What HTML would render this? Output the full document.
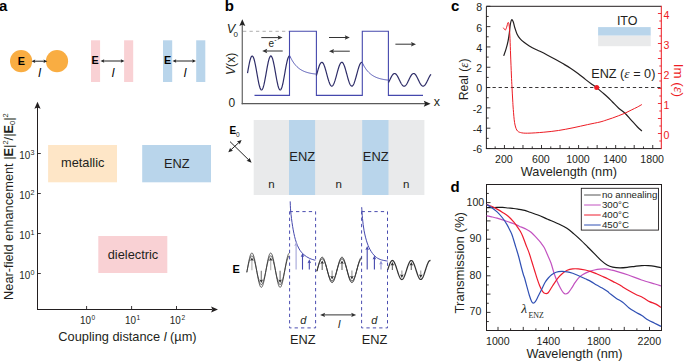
<!DOCTYPE html>
<html><head><meta charset="utf-8"><style>
html,body{margin:0;padding:0;background:#fff;}
svg{display:block;}
text{font-family:"Liberation Sans",sans-serif;}
.serif{font-family:"Liberation Serif",serif;}
</style></head><body>
<svg width="685" height="361" viewBox="0 0 685 361">
<rect width="685" height="361" fill="#fff"/>
<text x="-1" y="10.5" font-size="15" font-weight="bold" fill="#000">a</text>
<circle cx="21.1" cy="61.2" r="11.1" fill="#f9ad42"/>
<circle cx="57" cy="61.2" r="11.1" fill="#f9ad42"/>
<text x="21.4" y="65.2" font-size="10.8" text-anchor="middle" font-weight="bold" fill="#000">E</text>
<line x1="33.78" y1="61.2" x2="45.02" y2="61.2" stroke="#222" stroke-width="1"/><path d="M47.3,61.2 L43.5,63 L44.18,61.2 L43.5,59.4 Z" fill="#222"/><path d="M31.5,61.2 L35.3,59.4 L34.62,61.2 L35.3,63 Z" fill="#222"/>
<text x="38.2" y="77" font-size="12" font-style="italic" fill="#000">l</text>
<rect x="91" y="40.3" width="9.1" height="41.7" fill="#f9d1d4"/>
<rect x="124.1" y="40.3" width="9.1" height="41.7" fill="#f9d1d4"/>
<text x="95.2" y="64.3" font-size="10.8" text-anchor="middle" font-weight="bold" fill="#000">E</text>
<line x1="102.78" y1="61" x2="122.22" y2="61" stroke="#222" stroke-width="1"/><path d="M124.5,61 L120.7,62.8 L121.38,61 L120.7,59.2 Z" fill="#222"/><path d="M100.5,61 L104.3,59.2 L103.62,61 L104.3,62.8 Z" fill="#222"/>
<text x="111.7" y="77" font-size="12" font-style="italic" fill="#000">l</text>
<rect x="163" y="40.3" width="9.2" height="41.7" fill="#b9d5eb"/>
<rect x="196.2" y="40.3" width="9.1" height="41.7" fill="#b9d5eb"/>
<text x="167.6" y="64.3" font-size="10.8" text-anchor="middle" font-weight="bold" fill="#000">E</text>
<line x1="174.78" y1="61" x2="193.72" y2="61" stroke="#222" stroke-width="1"/><path d="M196,61 L192.2,62.8 L192.88,61 L192.2,59.2 Z" fill="#222"/><path d="M172.5,61 L176.3,59.2 L175.62,61 L176.3,62.8 Z" fill="#222"/>
<text x="183.7" y="77" font-size="12" font-style="italic" fill="#000">l</text>
<line x1="37.5" y1="310" x2="37.5" y2="106" stroke="#231f20" stroke-width="1"/>
<path d="M37.5,101.8 L40.6,108.7 L37.5,107.46 L34.4,108.7 Z" fill="#231f20"/>
<line x1="37" y1="309.5" x2="212" y2="309.5" stroke="#231f20" stroke-width="1"/>
<path d="M218,309.5 L211.1,312.6 L212.34,309.5 L211.1,306.4 Z" fill="#231f20"/>
<line x1="37.5" y1="153.5" x2="40.8" y2="153.5" stroke="#231f20" stroke-width="0.9"/>
<text x="30.2" y="158.6" font-size="10.8" text-anchor="end" textLength="11" lengthAdjust="spacingAndGlyphs" fill="#231f20">10</text>
<text x="30.6" y="155.3" font-size="7.2" fill="#231f20">3</text>
<line x1="37.5" y1="193.5" x2="40.8" y2="193.5" stroke="#231f20" stroke-width="0.9"/>
<text x="30.2" y="198.6" font-size="10.8" text-anchor="end" textLength="11" lengthAdjust="spacingAndGlyphs" fill="#231f20">10</text>
<text x="30.6" y="195.3" font-size="7.2" fill="#231f20">2</text>
<line x1="37.5" y1="233.5" x2="40.8" y2="233.5" stroke="#231f20" stroke-width="0.9"/>
<text x="30.2" y="238.6" font-size="10.8" text-anchor="end" textLength="11" lengthAdjust="spacingAndGlyphs" fill="#231f20">10</text>
<text x="30.6" y="235.3" font-size="7.2" fill="#231f20">1</text>
<line x1="37.5" y1="273.5" x2="40.8" y2="273.5" stroke="#231f20" stroke-width="0.9"/>
<text x="30.2" y="278.6" font-size="10.8" text-anchor="end" textLength="11" lengthAdjust="spacingAndGlyphs" fill="#231f20">10</text>
<text x="30.6" y="275.3" font-size="7.2" fill="#231f20">0</text>
<line x1="86.6" y1="309.5" x2="86.6" y2="306" stroke="#231f20" stroke-width="0.9"/>
<text x="90.9" y="323.7" font-size="10.8" text-anchor="end" textLength="11" lengthAdjust="spacingAndGlyphs" fill="#231f20">10</text>
<text x="91.5" y="320.2" font-size="6.6" fill="#231f20">0</text>
<line x1="131.6" y1="309.5" x2="131.6" y2="306" stroke="#231f20" stroke-width="0.9"/>
<text x="135.9" y="323.7" font-size="10.8" text-anchor="end" textLength="11" lengthAdjust="spacingAndGlyphs" fill="#231f20">10</text>
<text x="136.5" y="320.2" font-size="6.6" fill="#231f20">1</text>
<line x1="176.5" y1="309.5" x2="176.5" y2="306" stroke="#231f20" stroke-width="0.9"/>
<text x="180.8" y="323.7" font-size="10.8" text-anchor="end" textLength="11" lengthAdjust="spacingAndGlyphs" fill="#231f20">10</text>
<text x="181.4" y="320.2" font-size="6.6" fill="#231f20">2</text>
<rect x="48.1" y="145" width="68.9" height="37.3" fill="#fee6c7"/>
<rect x="142.2" y="145" width="68.8" height="37.3" fill="#b9d5eb"/>
<rect x="98.3" y="236" width="69" height="37" fill="#f9d1d4"/>
<text x="82.7" y="167.3" font-size="12.8" text-anchor="middle" fill="#231f20">metallic</text>
<text x="176.7" y="168.4" font-size="12.8" text-anchor="middle" fill="#231f20">ENZ</text>
<text x="133" y="258.8" font-size="12.8" text-anchor="middle" fill="#231f20">dielectric</text>
<text x="127.5" y="340.8" font-size="12.8" text-anchor="middle" fill="#231f20">Coupling distance <tspan font-style="italic">l</tspan> (µm)</text>
<text transform="translate(12.6,206.6) rotate(-90)" font-size="12.8" text-anchor="middle" fill="#231f20">Near-field enhancement |<tspan font-weight="bold">E</tspan>|<tspan font-size="7.5" dy="-4.5">2</tspan><tspan dy="4.5">/|</tspan><tspan font-weight="bold">E</tspan><tspan font-size="7.5" dy="2.5">0</tspan><tspan dy="-2.5">|</tspan><tspan font-size="7.5" dy="-4.5">2</tspan></text>
<text x="224.8" y="10.6" font-size="15" font-weight="bold" fill="#000">b</text>
<line x1="242.3" y1="104.3" x2="242.3" y2="24" stroke="#707070" stroke-width="1.3"/>
<path d="M242.3,19.2 L245.3,26 L242.3,24.78 L239.3,26 Z" fill="#222"/>
<line x1="241.65" y1="103.7" x2="425" y2="103.7" stroke="#5a5a5a" stroke-width="1.3"/>
<path d="M430.6,103.7 L423.8,106.7 L425.02,103.7 L423.8,100.7 Z" fill="#222"/>
<line x1="243" y1="31.3" x2="289" y2="31.3" stroke="#9a9a9a" stroke-width="0.8" stroke-dasharray="3.3,3.2"/>
<text x="226.8" y="32.5" font-size="12.7" font-style="italic" fill="#231f20">V</text>
<text x="233.6" y="36.8" font-size="8" fill="#231f20">0</text>
<text transform="translate(235.0,63.9) rotate(-90)" font-size="12.2" text-anchor="middle" fill="#231f20"><tspan font-style="italic">V</tspan>(x)</text>
<text x="228.4" y="106.5" font-size="12" fill="#231f20">0</text>
<text x="433.8" y="106.2" font-size="12.5" fill="#231f20">x</text>
<path d="M254.5,95.4 H289.5 V31.2 H316.4 V95.4 H362.3 V31.2 H388.4 V95.4 H423" fill="none" stroke="#4548ad" stroke-width="1.1"/>
<path d="M247.5,73.21 L247.83,71.33 L248.16,69.47 L248.49,67.66 L248.82,65.9 L249.14,64.24 L249.47,62.68 L249.8,61.25 L250.13,59.96 L250.46,58.84 L250.79,57.88 L251.12,57.12 L251.45,56.54 L251.78,56.17 L252.1,56.01 L252.43,56.05 L252.76,56.3 L253.09,56.76 L253.42,57.42 L253.75,58.26 L254.08,59.29 L254.41,60.49 L254.74,61.84 L255.06,63.32 L255.39,64.93 L255.72,66.63 L256.05,68.41 L256.38,70.25 L256.71,72.12 L257.04,74.01 L257.37,75.88 L257.7,77.71 L258.02,79.49 L258.35,81.19 L258.68,82.78 L259.01,84.26 L259.34,85.6 L259.67,86.79 L260,87.8 L260.33,88.63 L260.66,89.28 L260.99,89.72 L261.31,89.96 L261.64,89.99 L261.97,89.81 L262.3,89.42 L262.63,88.84 L262.96,88.06 L263.29,87.09 L263.62,85.95 L263.95,84.65 L264.27,83.21 L264.6,81.65 L264.93,79.98 L265.26,78.22 L265.59,76.4 L265.92,74.54 L266.25,72.66 L266.58,70.78 L266.91,68.93 L267.23,67.13 L267.56,65.4 L267.89,63.76 L268.22,62.24 L268.55,60.85 L268.88,59.61 L269.21,58.54 L269.54,57.64 L269.87,56.93 L270.19,56.41 L270.52,56.1 L270.85,56 L271.18,56.11 L271.51,56.42 L271.84,56.94 L272.17,57.65 L272.5,58.55 L272.83,59.63 L273.15,60.87 L273.48,62.26 L273.81,63.79 L274.14,65.42 L274.47,67.15 L274.8,68.95 L275.13,70.8 L275.46,72.68 L275.79,74.56 L276.11,76.43 L276.44,78.25 L276.77,80 L277.1,81.67 L277.43,83.24 L277.76,84.67 L278.09,85.97 L278.42,87.11 L278.75,88.07 L279.08,88.85 L279.4,89.43 L279.73,89.81 L280.06,89.99 L280.39,89.96 L280.72,89.71 L281.05,89.27 L281.38,88.62 L281.71,87.79 L282.04,86.77 L282.36,85.58 L282.69,84.24 L283.02,82.76 L283.35,81.16 L283.68,79.46 L284.01,77.69 L284.34,75.85 L284.67,73.98 L285,72.1 L285.32,70.22 L285.65,68.39 L285.98,66.61 L286.31,64.9 L286.64,63.3 L286.97,61.82 L287.3,60.47 L287.63,59.28 L287.96,58.25 L288.28,57.41 L288.61,56.75 L288.94,56.3 L289.27,56.05 L289.6,56.01" fill="none" stroke="#2e2d68" stroke-width="1.2"/>
<path d="M316.4,75.69 L316.73,74.46 L317.06,73.23 L317.39,72 L317.72,70.8 L318.05,69.64 L318.38,68.52 L318.71,67.47 L319.04,66.49 L319.37,65.59 L319.7,64.79 L320.03,64.08 L320.37,63.49 L320.7,63.01 L321.03,62.65 L321.36,62.42 L321.69,62.31 L322.02,62.33 L322.35,62.48 L322.68,62.75 L323.01,63.15 L323.34,63.66 L323.67,64.29 L324,65.03 L324.33,65.87 L324.66,66.79 L324.99,67.8 L325.32,68.87 L325.65,70 L325.98,71.18 L326.31,72.39 L326.64,73.62 L326.97,74.85 L327.3,76.08 L327.63,77.29 L327.97,78.46 L328.3,79.59 L328.63,80.66 L328.96,81.66 L329.29,82.58 L329.62,83.41 L329.95,84.14 L330.28,84.77 L330.61,85.28 L330.94,85.67 L331.27,85.94 L331.6,86.08 L331.93,86.09 L332.26,85.98 L332.59,85.73 L332.92,85.37 L333.25,84.88 L333.58,84.28 L333.91,83.57 L334.24,82.76 L334.57,81.86 L334.9,80.88 L335.23,79.82 L335.57,78.7 L335.9,77.54 L336.23,76.33 L336.56,75.11 L336.89,73.87 L337.22,72.64 L337.55,71.43 L337.88,70.25 L338.21,69.1 L338.54,68.02 L338.87,67 L339.2,66.05 L339.53,65.2 L339.86,64.44 L340.19,63.79 L340.52,63.25 L340.85,62.82 L341.18,62.52 L341.51,62.35 L341.84,62.3 L342.17,62.38 L342.5,62.59 L342.83,62.92 L343.17,63.38 L343.5,63.95 L343.83,64.63 L344.16,65.41 L344.49,66.29 L344.82,67.26 L345.15,68.3 L345.48,69.4 L345.81,70.55 L346.14,71.75 L346.47,72.97 L346.8,74.2 L347.13,75.43 L347.46,76.65 L347.79,77.85 L348.12,79 L348.45,80.1 L348.78,81.14 L349.11,82.11 L349.44,82.99 L349.77,83.77 L350.1,84.45 L350.43,85.02 L350.77,85.48 L351.1,85.81 L351.43,86.02 L351.76,86.1 L352.09,86.05 L352.42,85.88 L352.75,85.58 L353.08,85.15 L353.41,84.61 L353.74,83.96 L354.07,83.2 L354.4,82.35 L354.73,81.4 L355.06,80.38 L355.39,79.3 L355.72,78.15 L356.05,76.97 L356.38,75.76 L356.71,74.53 L357.04,73.29 L357.37,72.07 L357.7,70.86 L358.03,69.7 L358.37,68.58 L358.7,67.52 L359.03,66.54 L359.36,65.64 L359.69,64.83 L360.02,64.12 L360.35,63.52 L360.68,63.03 L361.01,62.67 L361.34,62.42 L361.67,62.31 L362,62.32" fill="none" stroke="#2e2d68" stroke-width="1.2"/>
<path d="M388.5,82.59 L388.83,81.95 L389.16,81.29 L389.49,80.61 L389.82,79.92 L390.15,79.23 L390.48,78.54 L390.81,77.88 L391.14,77.23 L391.47,76.62 L391.79,76.04 L392.12,75.51 L392.45,75.03 L392.78,74.61 L393.11,74.25 L393.44,73.96 L393.77,73.74 L394.1,73.59 L394.43,73.51 L394.76,73.51 L395.09,73.58 L395.42,73.73 L395.75,73.95 L396.08,74.24 L396.41,74.6 L396.74,75.02 L397.07,75.5 L397.4,76.03 L397.72,76.6 L398.05,77.21 L398.38,77.86 L398.71,78.52 L399.04,79.21 L399.37,79.9 L399.7,80.59 L400.03,81.27 L400.36,81.93 L400.69,82.57 L401.02,83.18 L401.35,83.75 L401.68,84.27 L402.01,84.74 L402.34,85.15 L402.67,85.5 L403,85.78 L403.33,85.99 L403.66,86.13 L403.98,86.2 L404.31,86.18 L404.64,86.1 L404.97,85.94 L405.3,85.7 L405.63,85.4 L405.96,85.03 L406.29,84.61 L406.62,84.12 L406.95,83.58 L407.28,83 L407.61,82.38 L407.94,81.74 L408.27,81.07 L408.6,80.38 L408.93,79.69 L409.26,79 L409.59,78.32 L409.91,77.66 L410.24,77.02 L410.57,76.42 L410.9,75.86 L411.23,75.35 L411.56,74.89 L411.89,74.49 L412.22,74.15 L412.55,73.88 L412.88,73.68 L413.21,73.55 L413.54,73.5 L413.87,73.52 L414.2,73.62 L414.53,73.8 L414.86,74.04 L415.19,74.35 L415.52,74.73 L415.84,75.17 L416.17,75.67 L416.5,76.21 L416.83,76.8 L417.16,77.42 L417.49,78.07 L417.82,78.75 L418.15,79.43 L418.48,80.12 L418.81,80.81 L419.14,81.49 L419.47,82.15 L419.8,82.78 L420.13,83.37 L420.46,83.93 L420.79,84.43 L421.12,84.88 L421.45,85.27 L421.78,85.6 L422.1,85.86 L422.43,86.05 L422.76,86.16 L423.09,86.2 L423.42,86.16 L423.75,86.05 L424.08,85.87 L424.41,85.61 L424.74,85.29 L425.07,84.9 L425.4,84.45 L425.73,83.95 L426.06,83.4 L426.39,82.8 L426.72,82.17 L427.05,81.52 L427.38,80.84 L427.71,80.15 L428.03,79.46 L428.36,78.78 L428.69,78.1 L429.02,77.45 L429.35,76.82 L429.68,76.23 L430.01,75.69 L430.34,75.19 L430.67,74.75 L431,74.37" fill="none" stroke="#2e2d68" stroke-width="1.2"/>
<path d="M289.65,55.5 L290.32,56.96 L290.99,58.31 L291.66,59.56 L292.32,60.71 L292.99,61.78 L293.66,62.77 L294.33,63.69 L295,64.53 L295.67,65.32 L296.34,66.04 L297.01,66.71 L297.67,67.33 L298.34,67.9 L299.01,68.44 L299.68,68.93 L300.35,69.38 L301.02,69.8 L301.69,70.19 L302.36,70.55 L303.02,70.88 L303.69,71.19 L304.36,71.48 L305.03,71.74 L305.7,71.98 L306.37,72.21 L307.04,72.42 L307.71,72.61 L308.38,72.79 L309.04,72.96 L309.71,73.11 L310.38,73.25 L311.05,73.38 L311.72,73.5 L312.39,73.61 L313.06,73.72 L313.72,73.81 L314.39,73.9 L315.06,73.98 L315.73,74.06 L316.4,74.13" fill="none" stroke="#4548ad" stroke-width="0.9"/>
<path d="M362.2,62.5 L362.86,63.86 L363.51,65.12 L364.17,66.29 L364.83,67.37 L365.49,68.38 L366.14,69.31 L366.8,70.17 L367.46,70.96 L368.12,71.7 L368.77,72.39 L369.43,73.02 L370.09,73.61 L370.75,74.15 L371.4,74.66 L372.06,75.12 L372.72,75.56 L373.38,75.96 L374.03,76.33 L374.69,76.67 L375.35,76.99 L376.01,77.29 L376.67,77.56 L377.32,77.81 L377.98,78.05 L378.64,78.26 L379.3,78.47 L379.95,78.65 L380.61,78.82 L381.27,78.98 L381.93,79.13 L382.58,79.27 L383.24,79.4 L383.9,79.52 L384.56,79.63 L385.21,79.73 L385.87,79.82 L386.53,79.91 L387.19,79.99 L387.84,80.06 L388.5,80.13" fill="none" stroke="#4548ad" stroke-width="0.9"/>
<line x1="261.3" y1="37.6" x2="279.6" y2="37.6" stroke="#333" stroke-width="1"/><path d="M282.6,37.6 L277.6,39.8 L278.5,37.6 L277.6,35.4 Z" fill="#333"/>
<line x1="282.7" y1="51" x2="265.2" y2="51" stroke="#333" stroke-width="1"/><path d="M262.2,51 L267.2,48.8 L266.3,51 L267.2,53.2 Z" fill="#333"/>
<line x1="329" y1="37.5" x2="346.8" y2="37.5" stroke="#333" stroke-width="1"/><path d="M349.8,37.5 L344.8,39.7 L345.7,37.5 L344.8,35.3 Z" fill="#333"/>
<line x1="349.8" y1="51.2" x2="332" y2="51.2" stroke="#333" stroke-width="1"/><path d="M329,51.2 L334,49 L333.1,51.2 L334,53.4 Z" fill="#333"/>
<line x1="395.4" y1="44.2" x2="413" y2="44.2" stroke="#333" stroke-width="1"/><path d="M416,44.2 L411,46.4 L411.9,44.2 L411,42 Z" fill="#333"/>
<text x="268.4" y="47.2" font-size="10" fill="#231f20">e</text>
<text x="274.2" y="42.4" font-size="7" fill="#231f20">-</text>
<rect x="253.7" y="120" width="170.7" height="75" fill="#e9eaeb"/>
<rect x="289" y="120" width="26.1" height="75" fill="#b9d5eb"/>
<rect x="362.2" y="120" width="26.3" height="75" fill="#b9d5eb"/>
<text x="302.2" y="160.9" font-size="12.9" text-anchor="middle" fill="#231f20">ENZ</text>
<text x="375.75" y="160.9" font-size="12.9" text-anchor="middle" fill="#231f20">ENZ</text>
<text x="271.5" y="188" font-size="11.5" text-anchor="middle" fill="#231f20">n</text>
<text x="338.7" y="188" font-size="11.5" text-anchor="middle" fill="#231f20">n</text>
<text x="406.3" y="188" font-size="11.5" text-anchor="middle" fill="#231f20">n</text>
<text x="229.4" y="133.6" font-size="10" font-weight="bold" fill="#000">E</text>
<text x="235.9" y="137.4" font-size="6.5" fill="#231f20">0</text>
<line x1="230" y1="141.6" x2="249.45" y2="160.6" stroke="#222" stroke-width="1"/><path d="M251.6,162.7 L246.49,160.78 L248.67,159.84 L249.56,157.63 Z" fill="#222"/>
<line x1="230.28" y1="150.47" x2="239.62" y2="141.83" stroke="#222" stroke-width="1"/><path d="M241.6,140 L239.72,144.6 L238.89,142.51 L236.87,141.51 Z" fill="#222"/><path d="M228.3,152.3 L230.18,147.7 L231.01,149.79 L233.03,150.79 Z" fill="#222"/>
<path d="M289.6,211.6 H315.6 V327.9 H289.6 Z" fill="none" stroke="#4a4db0" stroke-width="1" stroke-dasharray="3.3,3.1"/>
<path d="M361.6,211.6 H387.5 V327.9 H361.6 Z" fill="none" stroke="#4a4db0" stroke-width="1" stroke-dasharray="3.3,3.1"/>
<path d="M290.2,201.4 C290.28,203.03 290.3,207.05 290.7,211.2 C291.1,215.35 291.82,221.57 292.6,226.3 C293.38,231.03 294.3,235.82 295.4,239.6 C296.5,243.38 297.78,246.48 299.2,249 C300.62,251.52 302.17,253.13 303.9,254.7 C305.63,256.27 307.7,257.47 309.6,258.4 C311.5,259.33 314.35,259.98 315.3,260.3" fill="none" stroke="#4548ad" stroke-width="1"/>
<path d="M361.7,207.2 C361.83,209.08 362.1,214.57 362.5,218.5 C362.9,222.43 363.32,226.72 364.1,230.8 C364.88,234.88 366,239.52 367.2,243 C368.4,246.48 369.77,249.3 371.3,251.7 C372.83,254.1 374.68,256.03 376.4,257.4 C378.12,258.77 379.72,259.28 381.6,259.9 C383.48,260.52 386.68,260.9 387.7,261.1" fill="none" stroke="#4548ad" stroke-width="1"/>
<line x1="296.1" y1="269.6" x2="296.1" y2="244.3" stroke="#a5a6d8" stroke-width="1.1"/><path d="M296.1,241.9 L297.9,245.9 L296.1,245.18 L294.3,245.9 Z" fill="#a5a6d8"/>
<line x1="302.5" y1="269.6" x2="302.5" y2="255.4" stroke="#4548ad" stroke-width="1.1"/><path d="M302.5,253 L304.3,257 L302.5,256.28 L300.7,257 Z" fill="#4548ad"/>
<line x1="309.3" y1="269.6" x2="309.3" y2="261.6" stroke="#4548ad" stroke-width="1.1"/><path d="M309.3,259.2 L311.1,263.2 L309.3,262.48 L307.5,263.2 Z" fill="#4548ad"/>
<line x1="367.2" y1="269.6" x2="367.2" y2="248.4" stroke="#4548ad" stroke-width="1.1"/><path d="M367.2,246 L369,250 L367.2,249.28 L365.4,250 Z" fill="#4548ad"/>
<line x1="374.4" y1="269.6" x2="374.4" y2="257.8" stroke="#4548ad" stroke-width="1.1"/><path d="M374.4,255.4 L376.2,259.4 L374.4,258.68 L372.6,259.4 Z" fill="#4548ad"/>
<line x1="381" y1="269.6" x2="381" y2="262.9" stroke="#8d8fd0" stroke-width="1.1"/><path d="M381,260.5 L382.8,264.5 L381,263.78 L379.2,264.5 Z" fill="#8d8fd0"/>
<path d="M246.8,272.49 L247.13,270.61 L247.46,268.71 L247.79,266.84 L248.12,265.01 L248.45,263.24 L248.78,261.55 L249.11,259.97 L249.44,258.51 L249.77,257.2 L250.09,256.04 L250.42,255.05 L250.75,254.25 L251.08,253.64 L251.41,253.23 L251.74,253.02 L252.07,253.03 L252.4,253.24 L252.73,253.66 L253.06,254.28 L253.39,255.09 L253.72,256.08 L254.05,257.25 L254.38,258.57 L254.71,260.03 L255.04,261.62 L255.37,263.31 L255.7,265.08 L256.02,266.91 L256.35,268.79 L256.68,270.68 L257.01,272.57 L257.34,274.43 L257.67,276.23 L258,277.97 L258.33,279.6 L258.66,281.13 L258.99,282.52 L259.32,283.77 L259.65,284.85 L259.98,285.75 L260.31,286.46 L260.64,286.98 L260.97,287.29 L261.3,287.4 L261.63,287.3 L261.96,286.99 L262.28,286.48 L262.61,285.77 L262.94,284.87 L263.27,283.79 L263.6,282.55 L263.93,281.16 L264.26,279.64 L264.59,278.01 L264.92,276.27 L265.25,274.47 L265.58,272.61 L265.91,270.73 L266.24,268.83 L266.57,266.96 L266.9,265.12 L267.23,263.35 L267.56,261.65 L267.89,260.07 L268.21,258.6 L268.54,257.27 L268.87,256.11 L269.2,255.11 L269.53,254.29 L269.86,253.67 L270.19,253.25 L270.52,253.03 L270.85,253.02 L271.18,253.22 L271.51,253.63 L271.84,254.23 L272.17,255.03 L272.5,256.01 L272.83,257.17 L273.16,258.48 L273.49,259.93 L273.82,261.51 L274.14,263.2 L274.47,264.96 L274.8,266.8 L275.13,268.67 L275.46,270.56 L275.79,272.45 L276.12,274.31 L276.45,276.12 L276.78,277.86 L277.11,279.5 L277.44,281.04 L277.77,282.44 L278.1,283.69 L278.43,284.78 L278.76,285.7 L279.09,286.42 L279.42,286.95 L279.75,287.28 L280.08,287.4 L280.4,287.31 L280.73,287.02 L281.06,286.52 L281.39,285.82 L281.72,284.93 L282.05,283.87 L282.38,282.64 L282.71,281.26 L283.04,279.74 L283.37,278.11 L283.7,276.39 L284.03,274.58 L284.36,272.73 L284.69,270.85 L285.02,268.95 L285.35,267.08 L285.68,265.24 L286.01,263.46 L286.33,261.76 L286.66,260.16 L286.99,258.69 L287.32,257.35 L287.65,256.18 L287.98,255.17 L288.31,254.34 L288.64,253.7 L288.97,253.27 L289.3,253.04" fill="none" stroke="#333333" stroke-width="0.8"/>
<path d="M246.8,272.12 L247.13,270.54 L247.46,268.96 L247.79,267.39 L248.12,265.85 L248.45,264.37 L248.78,262.96 L249.11,261.63 L249.44,260.41 L249.77,259.31 L250.09,258.34 L250.42,257.52 L250.75,256.84 L251.08,256.33 L251.41,255.99 L251.74,255.82 L252.07,255.82 L252.4,256 L252.73,256.35 L253.06,256.87 L253.39,257.55 L253.72,258.38 L254.05,259.35 L254.38,260.46 L254.71,261.69 L255.04,263.01 L255.37,264.43 L255.7,265.91 L256.02,267.45 L256.35,269.02 L256.68,270.6 L257.01,272.18 L257.34,273.74 L257.67,275.25 L258,276.7 L258.33,278.07 L258.66,279.35 L258.99,280.52 L259.32,281.56 L259.65,282.46 L259.98,283.22 L260.31,283.82 L260.64,284.25 L260.97,284.51 L261.3,284.6 L261.63,284.51 L261.96,284.26 L262.28,283.83 L262.61,283.23 L262.94,282.48 L263.27,281.58 L263.6,280.54 L263.93,279.38 L264.26,278.1 L264.59,276.73 L264.92,275.28 L265.25,273.77 L265.58,272.22 L265.91,270.64 L266.24,269.06 L266.57,267.49 L266.9,265.95 L267.23,264.46 L267.56,263.05 L267.89,261.72 L268.21,260.49 L268.54,259.38 L268.87,258.4 L269.2,257.56 L269.53,256.88 L269.86,256.36 L270.19,256.01 L270.52,255.83 L270.85,255.82 L271.18,255.98 L271.51,256.32 L271.84,256.83 L272.17,257.5 L272.5,258.32 L272.83,259.29 L273.16,260.39 L273.49,261.6 L273.82,262.93 L274.14,264.34 L274.47,265.82 L274.8,267.35 L275.13,268.92 L275.46,270.5 L275.79,272.08 L276.12,273.64 L276.45,275.16 L276.78,276.61 L277.11,277.99 L277.44,279.27 L277.77,280.45 L278.1,281.5 L278.43,282.41 L278.76,283.17 L279.09,283.78 L279.42,284.23 L279.75,284.5 L280.08,284.6 L280.4,284.53 L280.73,284.28 L281.06,283.86 L281.39,283.28 L281.72,282.53 L282.05,281.64 L282.38,280.61 L282.71,279.46 L283.04,278.19 L283.37,276.82 L283.7,275.38 L284.03,273.87 L284.36,272.32 L284.69,270.74 L285.02,269.16 L285.35,267.58 L285.68,266.04 L286.01,264.55 L286.33,263.13 L286.66,261.8 L286.99,260.56 L287.32,259.45 L287.65,258.46 L287.98,257.61 L288.31,256.92 L288.64,256.39 L288.97,256.02 L289.3,255.83" fill="none" stroke="#333333" stroke-width="0.8"/>
<line x1="251.9" y1="270.2" x2="251.9" y2="259.44" stroke="#b5b5b5" stroke-width="1.2"/><path d="M251.9,257.4 L253.7,260.8 L251.9,260.19 L250.1,260.8 Z" fill="#333"/>
<line x1="261.3" y1="270.7" x2="261.3" y2="280.96" stroke="#808080" stroke-width="1.2"/><path d="M261.3,283 L259.5,279.6 L261.3,280.21 L263.1,279.6 Z" fill="#333"/>
<line x1="270.7" y1="270.2" x2="270.7" y2="259.44" stroke="#b5b5b5" stroke-width="1.2"/><path d="M270.7,257.4 L272.5,260.8 L270.7,260.19 L268.9,260.8 Z" fill="#333"/>
<line x1="280.1" y1="270.7" x2="280.1" y2="280.96" stroke="#808080" stroke-width="1.2"/><path d="M280.1,283 L278.3,279.6 L280.1,280.21 L281.9,279.6 Z" fill="#333"/>
<path d="M316.9,271.31 L317.23,269.98 L317.56,268.66 L317.89,267.34 L318.22,266.06 L318.55,264.82 L318.88,263.63 L319.21,262.51 L319.54,261.47 L319.87,260.53 L320.2,259.68 L320.53,258.95 L320.86,258.34 L321.19,257.85 L321.51,257.5 L321.84,257.28 L322.17,257.2 L322.5,257.26 L322.83,257.46 L323.16,257.79 L323.49,258.25 L323.82,258.85 L324.15,259.56 L324.48,260.39 L324.81,261.32 L325.14,262.34 L325.47,263.45 L325.8,264.62 L326.13,265.86 L326.46,267.14 L326.79,268.45 L327.12,269.77 L327.45,271.1 L327.78,272.41 L328.11,273.7 L328.44,274.94 L328.77,276.13 L329.1,277.25 L329.43,278.3 L329.76,279.24 L330.09,280.09 L330.41,280.83 L330.74,281.44 L331.07,281.93 L331.4,282.29 L331.73,282.51 L332.06,282.6 L332.39,282.55 L332.72,282.35 L333.05,282.03 L333.38,281.56 L333.71,280.98 L334.04,280.27 L334.37,279.44 L334.7,278.52 L335.03,277.5 L335.36,276.39 L335.69,275.22 L336.02,273.98 L336.35,272.71 L336.68,271.4 L337.01,270.07 L337.34,268.74 L337.67,267.43 L338,266.14 L338.33,264.9 L338.66,263.71 L338.99,262.58 L339.31,261.54 L339.64,260.59 L339.97,259.74 L340.3,259 L340.63,258.38 L340.96,257.88 L341.29,257.52 L341.62,257.29 L341.95,257.2 L342.28,257.25 L342.61,257.44 L342.94,257.76 L343.27,258.22 L343.6,258.8 L343.93,259.51 L344.26,260.33 L344.59,261.25 L344.92,262.27 L345.25,263.37 L345.58,264.54 L345.91,265.77 L346.24,267.05 L346.57,268.36 L346.9,269.68 L347.23,271.01 L347.56,272.33 L347.89,273.61 L348.21,274.86 L348.54,276.06 L348.87,277.18 L349.2,278.23 L349.53,279.18 L349.86,280.04 L350.19,280.78 L350.52,281.41 L350.85,281.9 L351.18,282.27 L351.51,282.5 L351.84,282.6 L352.17,282.55 L352.5,282.37 L352.83,282.05 L353.16,281.6 L353.49,281.02 L353.82,280.32 L354.15,279.5 L354.48,278.58 L354.81,277.57 L355.14,276.47 L355.47,275.3 L355.8,274.07 L356.13,272.79 L356.46,271.49 L356.79,270.16 L357.11,268.83 L357.44,267.52 L357.77,266.23 L358.1,264.98 L358.43,263.78 L358.76,262.66 L359.09,261.61 L359.42,260.65 L359.75,259.79 L360.08,259.04 L360.41,258.41 L360.74,257.91 L361.07,257.54 L361.4,257.3" fill="none" stroke="#333333" stroke-width="1.0"/>
<path d="M316.9,271.13 L317.23,269.97 L317.56,268.81 L317.89,267.66 L318.22,266.54 L318.55,265.46 L318.88,264.42 L319.21,263.44 L319.54,262.53 L319.87,261.71 L320.2,260.97 L320.53,260.33 L320.86,259.79 L321.19,259.37 L321.51,259.06 L321.84,258.87 L322.17,258.8 L322.5,258.85 L322.83,259.02 L323.16,259.31 L323.49,259.72 L323.82,260.24 L324.15,260.86 L324.48,261.58 L324.81,262.4 L325.14,263.29 L325.47,264.26 L325.8,265.29 L326.13,266.37 L326.46,267.49 L326.79,268.63 L327.12,269.79 L327.45,270.95 L327.78,272.1 L328.11,273.22 L328.44,274.31 L328.77,275.35 L329.1,276.33 L329.43,277.24 L329.76,278.07 L330.09,278.81 L330.41,279.45 L330.74,279.99 L331.07,280.42 L331.4,280.73 L331.73,280.92 L332.06,281 L332.39,280.95 L332.72,280.78 L333.05,280.5 L333.38,280.09 L333.71,279.58 L334.04,278.96 L334.37,278.24 L334.7,277.43 L335.03,276.54 L335.36,275.57 L335.69,274.55 L336.02,273.47 L336.35,272.35 L336.68,271.21 L337.01,270.05 L337.34,268.89 L337.67,267.74 L338,266.62 L338.33,265.53 L338.66,264.49 L338.99,263.5 L339.31,262.59 L339.64,261.76 L339.97,261.02 L340.3,260.37 L340.63,259.83 L340.96,259.4 L341.29,259.08 L341.62,258.88 L341.95,258.8 L342.28,258.84 L342.61,259.01 L342.94,259.29 L343.27,259.69 L343.6,260.2 L343.93,260.82 L344.26,261.53 L344.59,262.34 L344.92,263.23 L345.25,264.19 L345.58,265.22 L345.91,266.29 L346.24,267.41 L346.57,268.55 L346.9,269.71 L347.23,270.87 L347.56,272.02 L347.89,273.15 L348.21,274.24 L348.54,275.28 L348.87,276.26 L349.2,277.18 L349.53,278.01 L349.86,278.76 L350.19,279.41 L350.52,279.96 L350.85,280.39 L351.18,280.71 L351.51,280.92 L351.84,281 L352.17,280.96 L352.5,280.8 L352.83,280.52 L353.16,280.13 L353.49,279.62 L353.82,279.01 L354.15,278.29 L354.48,277.49 L354.81,276.6 L355.14,275.64 L355.47,274.62 L355.8,273.54 L356.13,272.43 L356.46,271.29 L356.79,270.13 L357.11,268.97 L357.44,267.82 L357.77,266.69 L358.1,265.6 L358.43,264.55 L358.76,263.57 L359.09,262.65 L359.42,261.81 L359.75,261.06 L360.08,260.41 L360.41,259.86 L360.74,259.42 L361.07,259.1 L361.4,258.89" fill="none" stroke="#333333" stroke-width="1.0"/>
<line x1="322.2" y1="269.9" x2="322.2" y2="262.44" stroke="#707070" stroke-width="1.2"/><path d="M322.2,260.4 L324,263.8 L322.2,263.19 L320.4,263.8 Z" fill="#333"/>
<line x1="332.1" y1="270.4" x2="332.1" y2="277.36" stroke="#a0a0a0" stroke-width="1.2"/><path d="M332.1,279.4 L330.3,276 L332.1,276.61 L333.9,276 Z" fill="#333"/>
<line x1="342" y1="269.9" x2="342" y2="262.44" stroke="#707070" stroke-width="1.2"/><path d="M342,260.4 L343.8,263.8 L342,263.19 L340.2,263.8 Z" fill="#333"/>
<line x1="351.9" y1="270.4" x2="351.9" y2="277.36" stroke="#a0a0a0" stroke-width="1.2"/><path d="M351.9,279.4 L350.1,276 L351.9,276.61 L353.7,276 Z" fill="#333"/>
<path d="M387.7,269.92 L388.03,268.88 L388.36,267.86 L388.69,266.86 L389.02,265.9 L389.35,264.99 L389.68,264.14 L390,263.36 L390.33,262.65 L390.66,262.04 L390.99,261.52 L391.32,261.1 L391.65,260.79 L391.98,260.59 L392.31,260.5 L392.64,260.53 L392.97,260.67 L393.3,260.92 L393.63,261.28 L393.96,261.74 L394.28,262.3 L394.61,262.96 L394.94,263.7 L395.27,264.51 L395.6,265.39 L395.93,266.33 L396.26,267.31 L396.59,268.32 L396.92,269.35 L397.25,270.39 L397.58,271.42 L397.91,272.44 L398.24,273.43 L398.56,274.38 L398.89,275.27 L399.22,276.1 L399.55,276.86 L399.88,277.54 L400.21,278.12 L400.54,278.61 L400.87,279 L401.2,279.28 L401.53,279.45 L401.86,279.5 L402.19,279.44 L402.52,279.27 L402.84,278.99 L403.17,278.59 L403.5,278.1 L403.83,277.51 L404.16,276.83 L404.49,276.07 L404.82,275.23 L405.15,274.34 L405.48,273.39 L405.81,272.4 L406.14,271.38 L406.47,270.34 L406.8,269.3 L407.12,268.27 L407.45,267.26 L407.78,266.29 L408.11,265.35 L408.44,264.48 L408.77,263.66 L409.1,262.93 L409.43,262.28 L409.76,261.72 L410.09,261.26 L410.42,260.91 L410.75,260.66 L411.08,260.53 L411.4,260.51 L411.73,260.6 L412.06,260.8 L412.39,261.12 L412.72,261.54 L413.05,262.06 L413.38,262.68 L413.71,263.39 L414.04,264.17 L414.37,265.03 L414.7,265.94 L415.03,266.9 L415.36,267.9 L415.68,268.93 L416.01,269.96 L416.34,271 L416.67,272.03 L417,273.03 L417.33,274 L417.66,274.91 L417.99,275.77 L418.32,276.56 L418.65,277.27 L418.98,277.9 L419.31,278.43 L419.64,278.86 L419.96,279.18 L420.29,279.39 L420.62,279.49 L420.95,279.48 L421.28,279.35 L421.61,279.11 L421.94,278.77 L422.27,278.31 L422.6,277.76 L422.93,277.12 L423.26,276.39 L423.59,275.58 L423.92,274.71 L424.24,273.78 L424.57,272.8 L424.9,271.8 L425.23,270.77 L425.56,269.73 L425.89,268.69 L426.22,267.67 L426.55,266.68 L426.88,265.73 L427.21,264.83 L427.54,263.99 L427.87,263.22 L428.2,262.53 L428.52,261.94 L428.85,261.44 L429.18,261.04 L429.51,260.75 L429.84,260.57 L430.17,260.5 L430.5,260.55" fill="none" stroke="#333333" stroke-width="1.25"/>
<line x1="392.4" y1="270" x2="392.4" y2="264.14" stroke="#707070" stroke-width="1.2"/><path d="M392.4,262.1 L394.2,265.5 L392.4,264.89 L390.6,265.5 Z" fill="#333"/>
<line x1="401.85" y1="270.5" x2="401.85" y2="275.86" stroke="#a0a0a0" stroke-width="1.2"/><path d="M401.85,277.9 L400.05,274.5 L401.85,275.11 L403.65,274.5 Z" fill="#333"/>
<line x1="411.3" y1="270" x2="411.3" y2="264.14" stroke="#707070" stroke-width="1.2"/><path d="M411.3,262.1 L413.1,265.5 L411.3,264.89 L409.5,265.5 Z" fill="#333"/>
<line x1="420.75" y1="270.5" x2="420.75" y2="275.86" stroke="#a0a0a0" stroke-width="1.2"/><path d="M420.75,277.9 L418.95,274.5 L420.75,275.11 L422.55,274.5 Z" fill="#333"/>
<text x="232.6" y="273" font-size="11" font-weight="bold" fill="#000">E</text>
<text x="303.3" y="324.2" font-size="11" text-anchor="middle" font-style="italic" fill="#231f20">d</text>
<text x="374.4" y="324.2" font-size="11" text-anchor="middle" font-style="italic" fill="#231f20">d</text>
<line x1="323.1" y1="314.9" x2="353.2" y2="314.9" stroke="#333" stroke-width="1"/><path d="M356.2,314.9 L351.2,317.1 L352.1,314.9 L351.2,312.7 Z" fill="#333"/><path d="M320.1,314.9 L325.1,312.7 L324.2,314.9 L325.1,317.1 Z" fill="#333"/>
<text x="339.2" y="327.5" font-size="11" text-anchor="middle" font-style="italic" fill="#231f20">l</text>
<text x="302.8" y="344" font-size="12.8" text-anchor="middle" fill="#231f20">ENZ</text>
<text x="374.5" y="344" font-size="12.8" text-anchor="middle" fill="#231f20">ENZ</text>
<text x="450.9" y="10.9" font-size="15" font-weight="bold" fill="#000">c</text>
<path d="M486.4,148.6 V6.3 H661.3" fill="none" stroke="#231f20" stroke-width="1"/>
<line x1="485.9" y1="148.6" x2="661.3" y2="148.6" stroke="#231f20" stroke-width="1"/>
<line x1="486.4" y1="148.5" x2="490.4" y2="148.5" stroke="#231f20" stroke-width="0.9"/>
<text x="482.2" y="153.4" font-size="10.6" text-anchor="end" fill="#231f20">-6</text>
<line x1="486.4" y1="138.34" x2="488.7" y2="138.34" stroke="#231f20" stroke-width="0.9"/>
<line x1="486.4" y1="128.19" x2="490.4" y2="128.19" stroke="#231f20" stroke-width="0.9"/>
<text x="482.2" y="133.09" font-size="10.6" text-anchor="end" fill="#231f20">-4</text>
<line x1="486.4" y1="118.03" x2="488.7" y2="118.03" stroke="#231f20" stroke-width="0.9"/>
<line x1="486.4" y1="107.87" x2="490.4" y2="107.87" stroke="#231f20" stroke-width="0.9"/>
<text x="482.2" y="112.77" font-size="10.6" text-anchor="end" fill="#231f20">-2</text>
<line x1="486.4" y1="97.72" x2="488.7" y2="97.72" stroke="#231f20" stroke-width="0.9"/>
<line x1="486.4" y1="87.56" x2="490.4" y2="87.56" stroke="#231f20" stroke-width="0.9"/>
<text x="482.2" y="92.46" font-size="10.6" text-anchor="end" fill="#231f20">0</text>
<line x1="486.4" y1="77.4" x2="488.7" y2="77.4" stroke="#231f20" stroke-width="0.9"/>
<line x1="486.4" y1="67.25" x2="490.4" y2="67.25" stroke="#231f20" stroke-width="0.9"/>
<text x="482.2" y="72.15" font-size="10.6" text-anchor="end" fill="#231f20">2</text>
<line x1="486.4" y1="57.09" x2="488.7" y2="57.09" stroke="#231f20" stroke-width="0.9"/>
<line x1="486.4" y1="46.93" x2="490.4" y2="46.93" stroke="#231f20" stroke-width="0.9"/>
<text x="482.2" y="51.83" font-size="10.6" text-anchor="end" fill="#231f20">4</text>
<line x1="486.4" y1="36.78" x2="488.7" y2="36.78" stroke="#231f20" stroke-width="0.9"/>
<line x1="486.4" y1="26.62" x2="490.4" y2="26.62" stroke="#231f20" stroke-width="0.9"/>
<text x="482.2" y="31.52" font-size="10.6" text-anchor="end" fill="#231f20">6</text>
<line x1="486.4" y1="16.46" x2="488.7" y2="16.46" stroke="#231f20" stroke-width="0.9"/>
<line x1="486.4" y1="6.3" x2="490.4" y2="6.3" stroke="#231f20" stroke-width="0.9"/>
<text x="482.2" y="11.2" font-size="10.6" text-anchor="end" fill="#231f20">8</text>
<line x1="495.17" y1="148.6" x2="495.17" y2="146.4" stroke="#231f20" stroke-width="0.9"/>
<line x1="504.44" y1="148.6" x2="504.44" y2="145" stroke="#231f20" stroke-width="0.9"/>
<line x1="513.71" y1="148.6" x2="513.71" y2="146.4" stroke="#231f20" stroke-width="0.9"/>
<line x1="522.98" y1="148.6" x2="522.98" y2="145" stroke="#231f20" stroke-width="0.9"/>
<line x1="532.25" y1="148.6" x2="532.25" y2="146.4" stroke="#231f20" stroke-width="0.9"/>
<line x1="541.51" y1="148.6" x2="541.51" y2="145" stroke="#231f20" stroke-width="0.9"/>
<line x1="550.78" y1="148.6" x2="550.78" y2="146.4" stroke="#231f20" stroke-width="0.9"/>
<line x1="560.05" y1="148.6" x2="560.05" y2="145" stroke="#231f20" stroke-width="0.9"/>
<line x1="569.32" y1="148.6" x2="569.32" y2="146.4" stroke="#231f20" stroke-width="0.9"/>
<line x1="578.59" y1="148.6" x2="578.59" y2="145" stroke="#231f20" stroke-width="0.9"/>
<line x1="587.86" y1="148.6" x2="587.86" y2="146.4" stroke="#231f20" stroke-width="0.9"/>
<line x1="597.13" y1="148.6" x2="597.13" y2="145" stroke="#231f20" stroke-width="0.9"/>
<line x1="606.4" y1="148.6" x2="606.4" y2="146.4" stroke="#231f20" stroke-width="0.9"/>
<line x1="615.67" y1="148.6" x2="615.67" y2="145" stroke="#231f20" stroke-width="0.9"/>
<line x1="624.93" y1="148.6" x2="624.93" y2="146.4" stroke="#231f20" stroke-width="0.9"/>
<line x1="634.2" y1="148.6" x2="634.2" y2="145" stroke="#231f20" stroke-width="0.9"/>
<line x1="643.47" y1="148.6" x2="643.47" y2="146.4" stroke="#231f20" stroke-width="0.9"/>
<line x1="652.74" y1="148.6" x2="652.74" y2="145" stroke="#231f20" stroke-width="0.9"/>
<text x="503.84" y="163.2" font-size="10.6" text-anchor="middle" fill="#231f20">200</text>
<text x="540.91" y="163.2" font-size="10.6" text-anchor="middle" fill="#231f20">600</text>
<text x="577.99" y="163.2" font-size="10.6" text-anchor="middle" fill="#231f20">1000</text>
<text x="615.07" y="163.2" font-size="10.6" text-anchor="middle" fill="#231f20">1400</text>
<text x="652.14" y="163.2" font-size="10.6" text-anchor="middle" fill="#231f20">1800</text>
<line x1="661.3" y1="5.8" x2="661.3" y2="149.1" stroke="#ed1c24" stroke-width="1"/>
<line x1="659.3" y1="141" x2="661.3" y2="141" stroke="#ed1c24" stroke-width="0.9"/>
<line x1="657.9" y1="133.5" x2="661.3" y2="133.5" stroke="#ed1c24" stroke-width="0.9"/>
<line x1="659.3" y1="126" x2="661.3" y2="126" stroke="#ed1c24" stroke-width="0.9"/>
<line x1="657.9" y1="118.5" x2="661.3" y2="118.5" stroke="#ed1c24" stroke-width="0.9"/>
<line x1="659.3" y1="111" x2="661.3" y2="111" stroke="#ed1c24" stroke-width="0.9"/>
<line x1="657.9" y1="103.5" x2="661.3" y2="103.5" stroke="#ed1c24" stroke-width="0.9"/>
<line x1="659.3" y1="96" x2="661.3" y2="96" stroke="#ed1c24" stroke-width="0.9"/>
<line x1="657.9" y1="88.5" x2="661.3" y2="88.5" stroke="#ed1c24" stroke-width="0.9"/>
<line x1="659.3" y1="81" x2="661.3" y2="81" stroke="#ed1c24" stroke-width="0.9"/>
<line x1="657.9" y1="73.5" x2="661.3" y2="73.5" stroke="#ed1c24" stroke-width="0.9"/>
<line x1="659.3" y1="66" x2="661.3" y2="66" stroke="#ed1c24" stroke-width="0.9"/>
<line x1="657.9" y1="58.5" x2="661.3" y2="58.5" stroke="#ed1c24" stroke-width="0.9"/>
<line x1="659.3" y1="51" x2="661.3" y2="51" stroke="#ed1c24" stroke-width="0.9"/>
<line x1="657.9" y1="43.5" x2="661.3" y2="43.5" stroke="#ed1c24" stroke-width="0.9"/>
<line x1="659.3" y1="36" x2="661.3" y2="36" stroke="#ed1c24" stroke-width="0.9"/>
<line x1="657.9" y1="28.5" x2="661.3" y2="28.5" stroke="#ed1c24" stroke-width="0.9"/>
<line x1="659.3" y1="21" x2="661.3" y2="21" stroke="#ed1c24" stroke-width="0.9"/>
<line x1="657.9" y1="13.5" x2="661.3" y2="13.5" stroke="#ed1c24" stroke-width="0.9"/>
<text x="663.4" y="138.6" font-size="10.6" fill="#ed1c24">0</text>
<text x="663.4" y="108.6" font-size="10.6" fill="#ed1c24">1</text>
<text x="663.4" y="78.6" font-size="10.6" fill="#ed1c24">2</text>
<text x="663.4" y="48.6" font-size="10.6" fill="#ed1c24">3</text>
<text x="663.4" y="18.6" font-size="10.6" fill="#ed1c24">4</text>
<line x1="486.4" y1="87.5" x2="661.3" y2="87.5" stroke="#231f20" stroke-width="0.9" stroke-dasharray="3.3,2.8"/>
<path d="M503.7,55.9 C504.08,54.78 505.28,51.63 506,49.2 C506.72,46.77 507.45,43.95 508,41.3 C508.55,38.65 508.9,36.18 509.3,33.3 C509.7,30.42 510,26.27 510.4,24 C510.8,21.73 511.22,20.03 511.7,19.7 C512.18,19.37 512.77,20.62 513.3,22 C513.83,23.38 514.28,26.02 514.9,28 C515.52,29.98 516.15,32.13 517,33.9 C517.85,35.67 518.83,37.2 520,38.6 C521.17,40 522.45,41.08 524,42.3 C525.55,43.52 527.32,44.7 529.3,45.9 C531.28,47.1 533.95,48.52 535.9,49.5 C537.85,50.48 539.05,50.85 541,51.8 C542.95,52.75 545.23,53.95 547.6,55.2 C549.97,56.45 552.67,57.9 555.2,59.3 C557.73,60.7 560.25,62.12 562.8,63.6 C565.35,65.08 567.97,66.55 570.5,68.2 C573.03,69.85 575.47,71.6 578,73.5 C580.53,75.4 583.4,77.82 585.7,79.6 C588,81.38 590,82.87 591.8,84.2 C593.6,85.53 594.72,86.2 596.5,87.6 C598.28,89 600.67,91.03 602.5,92.6 C604.33,94.17 605.83,95.43 607.5,97 C609.17,98.57 610.63,100.13 612.5,102 C614.37,103.87 616.62,106.33 618.7,108.2 C620.78,110.07 622.92,111.22 625,113.2 C627.08,115.18 629.12,117.8 631.2,120.1 C633.28,122.4 635.72,125.18 637.5,127 C639.28,128.82 641.17,130.33 641.9,131" fill="none" stroke="#231f20" stroke-width="1.2"/>
<path d="M503.3,27.7 C503.63,28.08 504.75,30.07 505.3,30 C505.85,29.93 506.12,28.57 506.6,27.3 C507.08,26.03 507.75,22.52 508.2,22.4 C508.65,22.28 509,23.9 509.3,26.6 C509.6,29.3 509.78,33.87 510,38.6 C510.22,43.33 510.37,48.93 510.6,55 C510.83,61.07 511.17,69.58 511.4,75 C511.63,80.42 511.78,83.33 512,87.5 C512.22,91.67 512.48,96.32 512.7,100 C512.92,103.68 512.98,105.82 513.3,109.6 C513.62,113.38 514.02,119.3 514.6,122.7 C515.18,126.1 515.83,128.37 516.8,130 C517.77,131.63 518.58,131.97 520.4,132.5 C522.22,133.03 523.8,133.25 527.7,133.2 C531.6,133.15 538.68,132.65 543.8,132.2 C548.92,131.75 553.53,131.23 558.4,130.5 C563.27,129.77 568.13,128.78 573,127.8 C577.87,126.82 583.1,125.57 587.6,124.6 C592.1,123.63 596.9,122.75 600,122 C603.1,121.25 604.12,120.77 606.2,120.1 C608.28,119.43 610.42,118.73 612.5,118 C614.58,117.27 616.62,116.5 618.7,115.7 C620.78,114.9 622.92,114.13 625,113.2 C627.08,112.27 629.12,111.13 631.2,110.1 C633.28,109.07 635.72,107.93 637.5,107 C639.28,106.07 641.17,104.92 641.9,104.5" fill="none" stroke="#ed1c24" stroke-width="1"/>
<circle cx="596.7" cy="87.6" r="2.5" fill="#ed1c24"/>
<text x="591.2" y="77.9" font-size="12.7" fill="#231f20">ENZ (<tspan class="serif" font-style="italic" font-size="13.5">ε</tspan> = 0)</text>
<rect x="598.1" y="27.1" width="52.6" height="8.6" fill="#b9d5eb"/>
<rect x="598.1" y="35.7" width="52.6" height="10.5" fill="#e9eaeb"/>
<text x="627.2" y="25" font-size="12.5" text-anchor="middle" fill="#231f20">ITO</text>
<text transform="translate(468.3,79.4) rotate(-90)" font-size="12.2" text-anchor="middle" fill="#231f20">Real (<tspan class="serif" font-style="italic" font-size="13">ε</tspan>)</text>
<text transform="translate(674.4,80.4) rotate(90)" font-size="13.4" text-anchor="middle" fill="#ed1c24">Im (<tspan class="serif" font-style="italic" font-size="14.5">ε</tspan>)</text>
<text x="568.9" y="175.8" font-size="12.7" text-anchor="middle" fill="#231f20">Wavelength (nm)</text>
<text x="450.6" y="191.9" font-size="15" font-weight="bold" fill="#000">d</text>
<rect x="486.5" y="184.5" width="175" height="146" fill="none" stroke="#231f20" stroke-width="1"/>
<line x1="486.5" y1="321.55" x2="488.8" y2="321.55" stroke="#231f20" stroke-width="0.9"/>
<line x1="486.5" y1="312.4" x2="490.5" y2="312.4" stroke="#231f20" stroke-width="0.9"/>
<line x1="486.5" y1="303.25" x2="488.8" y2="303.25" stroke="#231f20" stroke-width="0.9"/>
<line x1="486.5" y1="294.1" x2="490.5" y2="294.1" stroke="#231f20" stroke-width="0.9"/>
<line x1="486.5" y1="284.95" x2="488.8" y2="284.95" stroke="#231f20" stroke-width="0.9"/>
<line x1="486.5" y1="275.8" x2="490.5" y2="275.8" stroke="#231f20" stroke-width="0.9"/>
<line x1="486.5" y1="266.65" x2="488.8" y2="266.65" stroke="#231f20" stroke-width="0.9"/>
<line x1="486.5" y1="257.5" x2="490.5" y2="257.5" stroke="#231f20" stroke-width="0.9"/>
<line x1="486.5" y1="248.35" x2="488.8" y2="248.35" stroke="#231f20" stroke-width="0.9"/>
<line x1="486.5" y1="239.2" x2="490.5" y2="239.2" stroke="#231f20" stroke-width="0.9"/>
<line x1="486.5" y1="230.05" x2="488.8" y2="230.05" stroke="#231f20" stroke-width="0.9"/>
<line x1="486.5" y1="220.9" x2="490.5" y2="220.9" stroke="#231f20" stroke-width="0.9"/>
<line x1="486.5" y1="211.75" x2="488.8" y2="211.75" stroke="#231f20" stroke-width="0.9"/>
<line x1="486.5" y1="202.6" x2="490.5" y2="202.6" stroke="#231f20" stroke-width="0.9"/>
<line x1="486.5" y1="193.45" x2="488.8" y2="193.45" stroke="#231f20" stroke-width="0.9"/>
<text x="475.4" y="315.3" font-size="10.6" text-anchor="middle" fill="#231f20">70</text>
<text x="475.4" y="278.7" font-size="10.6" text-anchor="middle" fill="#231f20">80</text>
<text x="475.4" y="242.1" font-size="10.6" text-anchor="middle" fill="#231f20">90</text>
<text x="475.4" y="205.5" font-size="10.6" text-anchor="middle" fill="#231f20">100</text>
<line x1="498" y1="330.5" x2="498" y2="326.9" stroke="#231f20" stroke-width="0.9"/>
<line x1="510.62" y1="330.5" x2="510.62" y2="328.3" stroke="#231f20" stroke-width="0.9"/>
<line x1="523.25" y1="330.5" x2="523.25" y2="326.9" stroke="#231f20" stroke-width="0.9"/>
<line x1="535.88" y1="330.5" x2="535.88" y2="328.3" stroke="#231f20" stroke-width="0.9"/>
<line x1="548.5" y1="330.5" x2="548.5" y2="326.9" stroke="#231f20" stroke-width="0.9"/>
<line x1="561.12" y1="330.5" x2="561.12" y2="328.3" stroke="#231f20" stroke-width="0.9"/>
<line x1="573.75" y1="330.5" x2="573.75" y2="326.9" stroke="#231f20" stroke-width="0.9"/>
<line x1="586.38" y1="330.5" x2="586.38" y2="328.3" stroke="#231f20" stroke-width="0.9"/>
<line x1="599" y1="330.5" x2="599" y2="326.9" stroke="#231f20" stroke-width="0.9"/>
<line x1="611.62" y1="330.5" x2="611.62" y2="328.3" stroke="#231f20" stroke-width="0.9"/>
<line x1="624.25" y1="330.5" x2="624.25" y2="326.9" stroke="#231f20" stroke-width="0.9"/>
<line x1="636.88" y1="330.5" x2="636.88" y2="328.3" stroke="#231f20" stroke-width="0.9"/>
<line x1="649.5" y1="330.5" x2="649.5" y2="326.9" stroke="#231f20" stroke-width="0.9"/>
<text x="497.8" y="345.4" font-size="10.6" text-anchor="middle" fill="#231f20">1000</text>
<text x="548.3" y="345.4" font-size="10.6" text-anchor="middle" fill="#231f20">1400</text>
<text x="598.8" y="345.4" font-size="10.6" text-anchor="middle" fill="#231f20">1800</text>
<text x="649.3" y="345.4" font-size="10.6" text-anchor="middle" fill="#231f20">2200</text>
<text transform="translate(463.9,262.8) rotate(-90)" font-size="13.1" text-anchor="middle" fill="#231f20">Transmission (%)</text>
<text x="574.5" y="357.7" font-size="12.7" text-anchor="middle" fill="#231f20">Wavelength (nm)</text>
<path d="M486.6,207.5 C487.42,207.53 489.75,207.72 491.5,207.7 C493.25,207.68 495.25,207.45 497.1,207.4 C498.95,207.35 500.75,207.3 502.6,207.4 C504.45,207.5 506.35,207.82 508.2,208 C510.05,208.18 511.87,208.27 513.7,208.5 C515.53,208.73 517.35,209.08 519.2,209.4 C521.05,209.72 523,209.93 524.8,210.4 C526.6,210.87 527.8,211.43 530,212.2 C532.2,212.97 535.05,213.83 538,215 C540.95,216.17 544.23,217.7 547.7,219.2 C551.17,220.7 555.6,222.48 558.8,224 C562,225.52 564.38,226.65 566.9,228.3 C569.42,229.95 571.58,231.93 573.9,233.9 C576.22,235.87 578.5,237.92 580.8,240.1 C583.1,242.28 585.4,244.7 587.7,247 C590,249.3 592.28,251.58 594.6,253.9 C596.92,256.22 599.52,259.05 601.6,260.9 C603.68,262.75 605.25,263.97 607.1,265 C608.95,266.03 610.55,266.63 612.7,267.1 C614.85,267.57 617.4,267.78 620,267.8 C622.6,267.82 625.8,267.45 628.3,267.2 C630.8,266.95 632.78,266.57 635,266.3 C637.22,266.03 639.4,265.72 641.6,265.6 C643.8,265.48 645.98,265.48 648.2,265.6 C650.42,265.72 652.78,265.97 654.9,266.3 C657.02,266.63 659.9,267.38 660.9,267.6" fill="none" stroke="#1a1a1a" stroke-width="1.2"/>
<path d="M486.6,215.7 C487.42,215.88 489.75,216.38 491.5,216.8 C493.25,217.22 495.25,217.68 497.1,218.2 C498.95,218.72 500.75,219.3 502.6,219.9 C504.45,220.5 506.35,221.17 508.2,221.8 C510.05,222.43 511.87,222.97 513.7,223.7 C515.53,224.43 517.23,225.33 519.2,226.2 C521.17,227.07 523.52,227.88 525.5,228.9 C527.48,229.92 529.25,230.8 531.1,232.3 C532.95,233.8 534.98,236.17 536.6,237.9 C538.22,239.63 539.53,241.1 540.8,242.7 C542.07,244.3 543.08,245.48 544.2,247.5 C545.32,249.52 546.37,252.22 547.5,254.8 C548.63,257.38 549.93,260.02 551,263 C552.07,265.98 552.87,269.6 553.9,272.7 C554.93,275.8 556.1,279.02 557.2,281.6 C558.3,284.18 559.48,286.35 560.5,288.2 C561.52,290.05 562.47,291.73 563.3,292.7 C564.13,293.67 564.67,294 565.5,294 C566.33,294 567.28,293.67 568.3,292.7 C569.32,291.73 570.48,289.87 571.6,288.2 C572.72,286.53 573.9,284.35 575,282.7 C576.1,281.05 576.95,279.62 578.2,278.3 C579.45,276.98 580.72,275.92 582.5,274.8 C584.28,273.68 586.92,272.4 588.9,271.6 C590.88,270.8 592.55,270.42 594.4,270 C596.25,269.58 598.15,269.28 600,269.1 C601.85,268.92 603.67,268.75 605.5,268.9 C607.33,269.05 609.15,269.58 611,270 C612.85,270.42 613.72,270.57 616.6,271.4 C619.48,272.23 624.13,273.57 628.3,275 C632.47,276.43 637.17,278.5 641.6,280 C646.03,281.5 651.68,283.02 654.9,284 C658.12,284.98 659.9,285.58 660.9,285.9" fill="none" stroke="#c252c0" stroke-width="1.2"/>
<path d="M486.6,204.4 C487.42,204.72 489.75,205.52 491.5,206.3 C493.25,207.08 495.25,208.08 497.1,209.1 C498.95,210.12 500.75,211.2 502.6,212.4 C504.45,213.6 506.35,214.73 508.2,216.3 C510.05,217.87 512.23,220.13 513.7,221.8 C515.17,223.47 515.9,224.73 517,226.3 C518.1,227.87 519.35,229.55 520.3,231.2 C521.25,232.85 521.8,234.02 522.7,236.2 C523.6,238.38 524.65,241.57 525.7,244.3 C526.75,247.03 527.98,249.73 529,252.6 C530.02,255.47 530.88,258.57 531.8,261.5 C532.72,264.43 533.6,267.3 534.5,270.2 C535.4,273.1 536.28,276.17 537.2,278.9 C538.12,281.63 539.08,284.48 540,286.6 C540.92,288.72 541.78,290.45 542.7,291.6 C543.62,292.75 544.58,293.32 545.5,293.5 C546.42,293.68 547.18,293.7 548.2,292.7 C549.22,291.7 550.65,288.98 551.6,287.5 C552.55,286.02 552.78,285.43 553.9,283.8 C555.02,282.17 556.83,279.45 558.3,277.7 C559.77,275.95 561.22,274.53 562.7,273.3 C564.18,272.07 565.53,271.03 567.2,270.3 C568.87,269.57 570.87,269.13 572.7,268.9 C574.53,268.67 576.1,268.72 578.2,268.9 C580.3,269.08 583.15,269.55 585.3,270 C587.45,270.45 589.22,270.97 591.1,271.6 C592.98,272.23 594.75,273.02 596.6,273.8 C598.45,274.58 600.35,275.47 602.2,276.3 C604.05,277.13 605.87,277.92 607.7,278.8 C609.53,279.68 611.33,280.65 613.2,281.6 C615.07,282.55 617.32,283.62 618.9,284.5 C620.48,285.38 621,285.87 622.7,286.9 C624.4,287.93 626.97,289.48 629.1,290.7 C631.23,291.92 633.17,293.03 635.5,294.2 C637.83,295.37 640.77,296.47 643.1,297.7 C645.43,298.93 647.37,300.53 649.5,301.6 C651.63,302.67 653.98,303.15 655.9,304.1 C657.82,305.05 660.15,306.77 661,307.3" fill="none" stroke="#ee1c2e" stroke-width="1.2"/>
<path d="M486.6,204.6 C487.42,205.07 489.75,206.18 491.5,207.4 C493.25,208.62 495.25,210.13 497.1,211.9 C498.95,213.67 500.95,215.88 502.6,218 C504.25,220.12 505.7,222.4 507,224.6 C508.3,226.8 509.48,229.27 510.4,231.2 C511.32,233.13 511.6,233.55 512.5,236.2 C513.4,238.85 514.8,243.8 515.8,247.1 C516.8,250.4 517.58,252.68 518.5,256 C519.42,259.32 520.52,264 521.3,267 C522.08,270 522.58,271.92 523.2,274 C523.82,276.08 524.33,277.22 525,279.5 C525.67,281.78 526.47,285.03 527.2,287.7 C527.93,290.37 528.67,293.22 529.4,295.5 C530.13,297.78 530.95,300.12 531.6,301.4 C532.25,302.68 532.65,303.2 533.3,303.2 C533.95,303.2 534.67,302.6 535.5,301.4 C536.33,300.2 537.28,298 538.3,296 C539.32,294 540.48,291.65 541.6,289.4 C542.72,287.15 543.88,284.4 545,282.5 C546.12,280.6 547.2,279.3 548.3,278 C549.4,276.7 550.3,275.67 551.6,274.7 C552.9,273.73 554.43,272.75 556.1,272.2 C557.77,271.65 559.75,271.47 561.6,271.4 C563.45,271.33 565.35,271.48 567.2,271.8 C569.05,272.12 570.87,272.68 572.7,273.3 C574.53,273.92 576.1,274.58 578.2,275.5 C580.3,276.42 583.15,277.78 585.3,278.8 C587.45,279.82 589.22,280.57 591.1,281.6 C592.98,282.63 594.75,283.93 596.6,285 C598.45,286.07 600.35,286.9 602.2,288 C604.05,289.1 606.4,290.67 607.7,291.6 C609,292.53 608.55,292.47 610,293.6 C611.45,294.73 614.28,296.97 616.4,298.4 C618.52,299.83 620.58,300.62 622.7,302.2 C624.82,303.78 626.97,306.27 629.1,307.9 C631.23,309.53 633.38,310.72 635.5,312 C637.62,313.28 639.68,314.27 641.8,315.6 C643.92,316.93 646.07,318.73 648.2,320 C650.33,321.27 652.47,322.13 654.6,323.2 C656.73,324.27 659.93,325.87 661,326.4" fill="none" stroke="#3050b4" stroke-width="1.2"/>
<rect x="581.3" y="188.3" width="77.2" height="41.8" fill="#fff" stroke="#231f20" stroke-width="0.9"/>
<line x1="584.1" y1="195" x2="600.7" y2="195" stroke="#555" stroke-width="1"/>
<text x="601.9" y="198.4" font-size="9.7" fill="#231f20">no annealing</text>
<line x1="584.1" y1="205" x2="600.7" y2="205" stroke="#c252c0" stroke-width="1"/>
<text x="601.9" y="208.4" font-size="9.7" fill="#231f20">300°C</text>
<line x1="584.1" y1="215" x2="600.7" y2="215" stroke="#ee1c2e" stroke-width="1"/>
<text x="601.9" y="218.4" font-size="9.7" fill="#231f20">400°C</text>
<line x1="584.1" y1="225" x2="600.7" y2="225" stroke="#3050b4" stroke-width="1"/>
<text x="601.9" y="228.4" font-size="9.7" fill="#231f20">450°C</text>
<text x="521.3" y="312.7" font-size="13.4" font-style="italic" class="serif" fill="#231f20">λ</text>
<text x="528.5" y="317.6" font-size="9.2" class="serif" fill="#231f20" textLength="15.4" lengthAdjust="spacingAndGlyphs">ENZ</text>
</svg>
</body></html>
